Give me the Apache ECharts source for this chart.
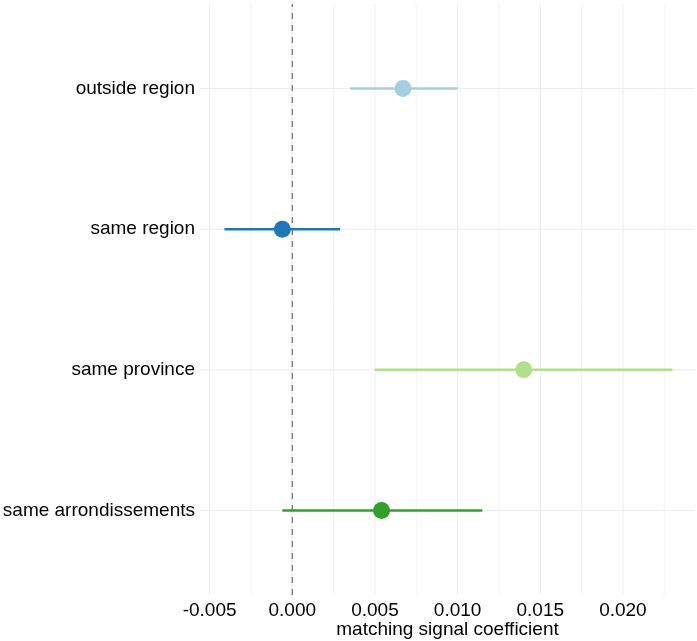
<!DOCTYPE html>
<html>
<head>
<meta charset="utf-8">
<script src="https://cdn.jsdelivr.net/npm/echarts@6/dist/echarts.min.js"></script>
<style>
  html, body { margin: 0; padding: 0; background: #ffffff; }
  #chart { width: 697px; height: 641px; }
</style>
</head>
<body>
<div id="chart"></div>
<script>
// Categories, bottom to top
const categories = ['same arrondissements', 'same province', 'same region', 'outside region'];
const estimates = [0.0054, 0.0140, -0.0006, 0.0067];
const lower = [-0.0006, 0.0050, -0.0041, 0.0035];
const upper = [0.0115, 0.0230, 0.0029, 0.0100];
const colors = ['#33A02C', '#B2DF8A', '#1F78B4', '#A6CEE3'];

const xTicks = [-0.005, 0.000, 0.005, 0.010, 0.015, 0.020];
const xMinorTicks = [-0.0025, 0.0025, 0.0075, 0.0125, 0.0175, 0.0225];
const yPositions = [1, 2, 3, 4];

const X_MIN = -0.00558, X_MAX = 0.02436, Y_MIN = 0.4, Y_MAX = 4.6;

const FONT = 'Liberation Sans, Arial, sans-serif';

const chart = echarts.init(document.getElementById('chart'), null, { renderer: 'canvas' });

// background grid: [kind, value] where kind 0 = minor vertical, 1 = major vertical, 2 = horizontal
const gridData = []
  .concat(xMinorTicks.map(v => [0, v]))
  .concat(xTicks.map(v => [1, v]))
  .concat(yPositions.map(v => [2, v]));

chart.setOption({
  animation: false,
  backgroundColor: '#ffffff',
  grid: { left: 200, right: 2, top: 4, bottom: 46, containLabel: false, outerBoundsMode: 'none' },
  xAxis: {
    type: 'value',
    min: X_MIN,
    max: X_MAX,
    axisLine: { show: false },
    axisTick: { show: false },
    splitLine: { show: false },
    axisLabel: {
      customValues: xTicks,
      formatter: v => v.toFixed(3),
      color: '#000000',
      fontFamily: FONT,
      fontSize: 19,
      margin: 6
    },
    name: 'matching signal coefficient',
    nameLocation: 'middle',
    nameGap: 25,
    nameMoveOverlap: false,
    nameTextStyle: { color: '#000000', fontFamily: FONT, fontSize: 19, verticalAlign: 'top' }
  },
  yAxis: {
    type: 'value',
    min: Y_MIN,
    max: Y_MAX,
    axisLine: { show: false },
    axisTick: { show: false },
    splitLine: { show: false },
    axisLabel: {
      customValues: yPositions,
      formatter: v => categories[Math.round(v) - 1] || '',
      color: '#000000',
      fontFamily: FONT,
      fontSize: 19,
      margin: 5
    }
  },
  series: [
    {
      // panel grid lines
      type: 'custom',
      silent: true,
      z: 1,
      data: gridData,
      renderItem: (params, api) => {
        const kind = api.value(0), v = api.value(1);
        let p0, p1, color;
        if (kind === 2) {
          p0 = api.coord([X_MIN, v]); p1 = api.coord([X_MAX, v]); color = '#ebebeb';
        } else {
          p0 = api.coord([v, Y_MIN]); p1 = api.coord([v, Y_MAX]);
          color = kind === 1 ? '#ebebeb' : '#f3f3f3';
        }
        return {
          type: 'line',
          shape: { x1: p0[0], y1: p0[1], x2: p1[0], y2: p1[1] },
          style: { stroke: color, lineWidth: 1 }
        };
      }
    },
    {
      // dashed reference line at zero
      type: 'custom',
      silent: true,
      z: 2,
      data: [[0]],
      renderItem: (params, api) => {
        const p0 = api.coord([api.value(0), Y_MIN]);
        const p1 = api.coord([api.value(0), Y_MAX]);
        return {
          type: 'line',
          shape: { x1: p0[0], y1: p0[1], x2: p1[0], y2: p1[1] },
          style: { stroke: '#6e6e6e', lineWidth: 1.2, lineDash: [6, 6] }
        };
      }
    },
    {
      // confidence intervals
      type: 'custom',
      silent: true,
      z: 3,
      data: categories.map((c, i) => [lower[i], upper[i], i + 1]),
      renderItem: (params, api) => {
        const i = params.dataIndex;
        const p0 = api.coord([api.value(0), api.value(2)]);
        const p1 = api.coord([api.value(1), api.value(2)]);
        return {
          type: 'line',
          shape: { x1: p0[0], y1: p0[1], x2: p1[0], y2: p1[1] },
          style: { stroke: colors[i], lineWidth: 2.5 }
        };
      }
    },
    {
      type: 'scatter',
      z: 4,
      symbol: 'circle',
      symbolSize: 17,
      data: categories.map((c, i) => ({
        value: [estimates[i], i + 1],
        itemStyle: { color: colors[i], opacity: 1 }
      }))
    }
  ]
});
</script>
</body>
</html>
